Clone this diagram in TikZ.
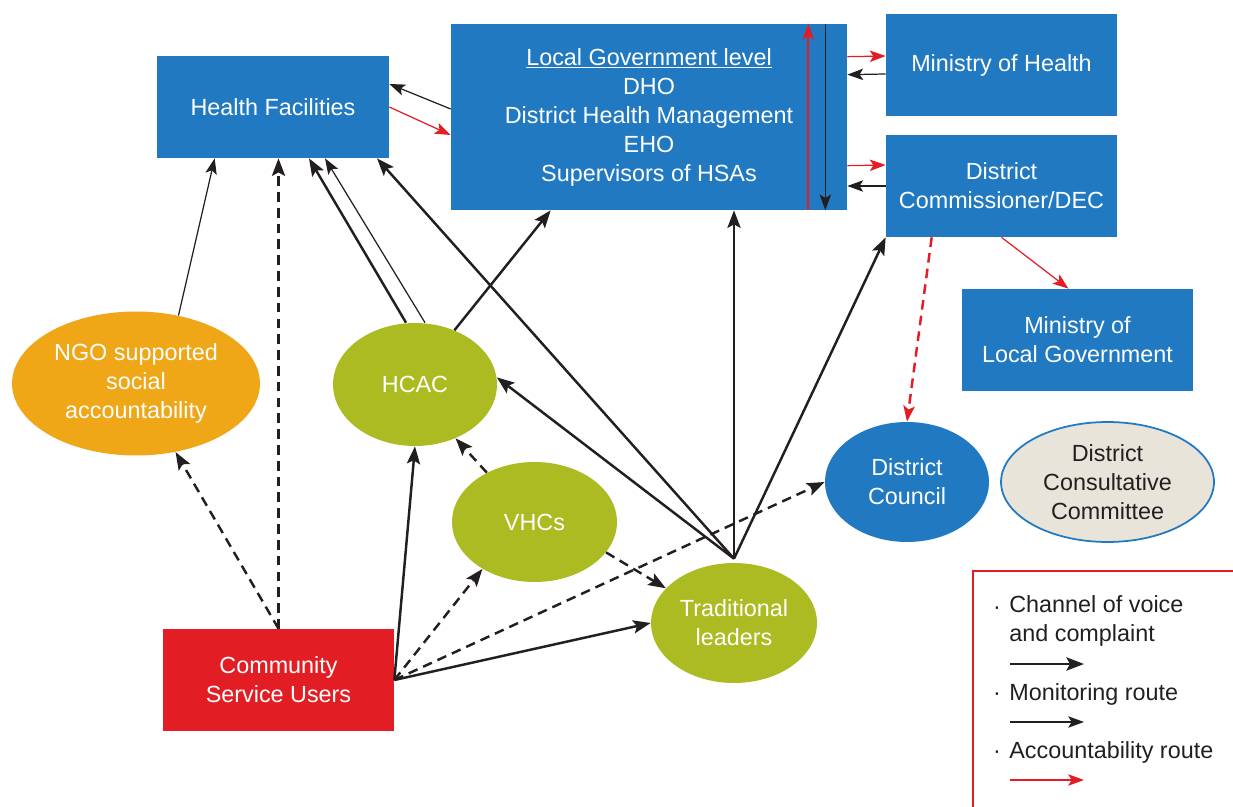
\documentclass[tikz,border=0pt]{standalone}
\usepackage{fontspec}
\setmainfont{Liberation Sans}
\usetikzlibrary{arrows.meta,shapes.geometric,calc}

\definecolor{boxblue}{HTML}{2079C1}
\definecolor{cred}{HTML}{E31D24}
\definecolor{hcgreen}{HTML}{ADBB23}
\definecolor{ngoorange}{HTML}{EFA717}
\definecolor{beige}{HTML}{E8E4DA}
\definecolor{ink}{HTML}{231F20}

\begin{document}
\begin{tikzpicture}[x=0.02cm, y=-0.02cm,
  font=\fontsize{13.3}{16.5}\selectfont,
  box/.style={rectangle, fill=boxblue, text=white, align=center, minimum width=4.62cm, minimum height=2.04cm, inner sep=0pt},
  oval/.style={ellipse, text=white, align=center, inner sep=0pt},
  voice/.style={-{Stealth[length=10pt,width=7.5pt,inset=2pt]}, line width=1.4pt, draw=ink},
  monitor/.style={-{Stealth[length=9pt,width=6.5pt,inset=2pt]}, line width=0.7pt, draw=ink},
  account/.style={-{Stealth[length=9pt,width=6.5pt,inset=2pt]}, line width=0.7pt, draw=cred},
  informal/.style={voice, dash pattern=on 5.5pt off 3.5pt},
  legtext/.style={text=ink, align=left, inner sep=0pt}]
\useasboundingbox (0,0) rectangle (1233,807);
\node[box, minimum width=4.64cm] (hf) at (273,107) {Health Facilities};
\node[box, minimum width=7.92cm, minimum height=3.72cm] (lg) at (649,117) {\underline{Local Government level}\\DHO\\District Health Management\\EHO\\Supervisors of HSAs};
\node[box] (moh) at (1001.5,65) {Ministry of Health};
\node[box] (dec) at (1001.5,186) {District\\Commissioner/DEC};
\node[box] (molg) at (1077.5,340) {Ministry of\\Local Government};
\node[box, fill=cred] (csu) at (278.5,680) {Community\\Service Users};
\node[oval, fill=ngoorange, minimum width=4.96cm, minimum height=2.88cm] (ngo) at (136,383.5) {NGO supported\\social\\accountability};
\node[oval, fill=hcgreen, minimum width=3.28cm, minimum height=2.46cm] (hcac) at (415,384.5) {HCAC};
\node[oval, fill=hcgreen, minimum width=3.3cm, minimum height=2.4cm] (vhc) at (534.5,522) {VHCs};
\node[oval, fill=hcgreen, minimum width=3.32cm, minimum height=2.4cm] (tl) at (734,623) {Traditional\\leaders};
\node[oval, fill=boxblue, minimum width=3.28cm, minimum height=2.4cm] (dc) at (907,482) {District\\Council};
\node[oval, fill=beige, draw=boxblue, line width=1pt, text=ink, minimum width=4.26cm, minimum height=2.4cm] (dcc) at (1107.5,482) {District\\Consultative\\Committee};
\coordinate (hub) at ($(tl.north)+(0,-4)$);

\path ($(lg.west)+(0,-8)$) edge[monitor] ($(hf.east)+(0,-23)$);
\path (hf.east) edge[account] ($(lg.west)+(0,18)$);
\path ($(lg.north east)+(0,33)$) edge[account] ($(moh.west)+(0,-9)$);
\path ($(moh.west)+(0,9)$) edge[monitor] ($(lg.north east)+(0,51)$);
\path ($(lg.north east)+(0,142)$) edge[account] ($(dec.west)+(0,-21)$);
\path (dec.west) edge[monitor] (lg.east |- dec.west);
\path ($(lg.south east)+(-39,0)$) edge[account, line width=1.2pt] ($(lg.north east)+(-39,0)$);
\path ($(lg.north east)+(-22,0)$) edge[monitor] ($(lg.south east)+(-22,0)$);
\path (ngo.58) edge[monitor] ($(hf.south west)+(58,0)$);
\path (csu.north) edge[informal] (hf.south -| csu.north);
\path (csu.north) edge[informal] (ngo.-60);
\path ($(hcac.north)+(-9,0)$) edge[voice] ($(hf.south)+(36,0)$);
\path ($(hcac.north)+(10,0)$) edge[monitor] ($(hf.south)+(52,0)$);
\path (hcac.54) edge[voice] ($(lg.south west)+(100,0)$);
\path (hub) edge[voice] ($(hf.south)+(104,0)$);
\path (hub) edge[voice] (hcac.5);
\path (hub) edge[voice] (lg.south -| hub);
\path (hub) edge[voice] (dec.south west);
\path (csu.east) edge[voice] (hcac.south);
\path (csu.east) edge[informal] (vhc.222);
\path (csu.east) edge[voice] (tl.west);
\path (csu.east) edge[informal] (dc.west);
\path (vhc.134) edge[informal] (hcac.-53);
\path (vhc.-23) edge[informal] (tl.153);
\path (dec.south) edge[account] ($(molg.north)+(-9,0)$);
\path ($(dec.south west)+(46,0)$) edge[account, line width=1.4pt, dash pattern=on 5.5pt off 3.5pt] (dc.north);

\draw[cred, line width=1.2pt] (1240,571) -| (973,815);
\node[legtext, anchor=base] (b1) at (997,614) {\textperiodcentered};
\node[legtext, anchor=west] (lvoice) at (1009,620.5) {Channel of voice\\and complaint};
\node[legtext, anchor=base] (b2) at (997,700) {\textperiodcentered};
\node[legtext, anchor=base west] (lmon) at (1009,700) {Monitoring route};
\node[legtext, anchor=base] (b3) at (997,758) {\textperiodcentered};
\node[legtext, anchor=base west] (lacc) at (1009,758) {Accountability route};
\coordinate (k1) at (1010,664);
\coordinate (k2) at (1084,664);
\coordinate (k3) at (1010,722);
\coordinate (k4) at (1084,722);
\coordinate (k5) at (1010,780);
\coordinate (k6) at (1084,780);
\path (k1) edge[voice] (k2);
\path (k3) edge[monitor] (k4);
\path (k5) edge[account] (k6);
\end{tikzpicture}
\end{document}
